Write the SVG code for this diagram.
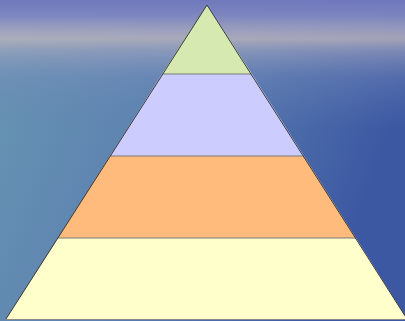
<svg xmlns="http://www.w3.org/2000/svg" width="405" height="321" viewBox="0 0 405 321">
<defs>
<linearGradient id="sea" x1="0" y1="0" x2="1" y2="0.3">
<stop offset="0" stop-color="#6896b2"/>
<stop offset="0.5" stop-color="#5c80b0"/>
<stop offset="1" stop-color="#3c58a2"/>
</linearGradient>
<linearGradient id="skyv" x1="0" y1="0" x2="0" y2="130" gradientUnits="userSpaceOnUse">
<stop offset="0" stop-color="#7078bc" stop-opacity="1"/>
<stop offset="0.12" stop-color="#7e86c0" stop-opacity="0.95"/>
<stop offset="0.24" stop-color="#aaa6c0" stop-opacity="0.85"/>
<stop offset="0.3" stop-color="#bcb4bc" stop-opacity="0.8"/>
<stop offset="0.4" stop-color="#a2a4c0" stop-opacity="0.6"/>
<stop offset="0.6" stop-color="#7a8cbc" stop-opacity="0.35"/>
<stop offset="1" stop-color="#6080b0" stop-opacity="0"/>
</linearGradient>
<style>
.lvl{stroke:none}
.sep{stroke:#7a7a7a;stroke-width:1.2}
.edge{fill:none;stroke:#3a3a3a;stroke-width:1}
</style>
</defs>
<rect width="405" height="321" fill="url(#sea)"/>
<rect width="405" height="130" fill="url(#skyv)"/>
<g id="level1"><polygon class="lvl" points="207,5 252,74 162,74" fill="#d6e9b0"/></g>
<g id="level2"><polygon class="lvl" points="162,74 252,74 304,156 110,156" fill="#ccccff"/></g>
<g id="level3"><polygon class="lvl" points="110,156 304,156 356,238 58,238" fill="#ffbb7b"/></g>
<g id="level4"><polygon class="lvl" points="58,238 356,238 407,319 6,319" fill="#ffffcc"/></g>
<g id="connectors">
<line class="sep" x1="162" y1="74" x2="252" y2="74"/>
<line class="sep" x1="110" y1="156" x2="304" y2="156"/>
<line class="sep" x1="58" y1="238" x2="356" y2="238"/>
<polyline class="edge" points="6,319 207,5 407,319"/>
<line x1="6" y1="319.5" x2="405" y2="319.5" stroke="#8a8a8a" stroke-width="1"/>
</g>
</svg>
